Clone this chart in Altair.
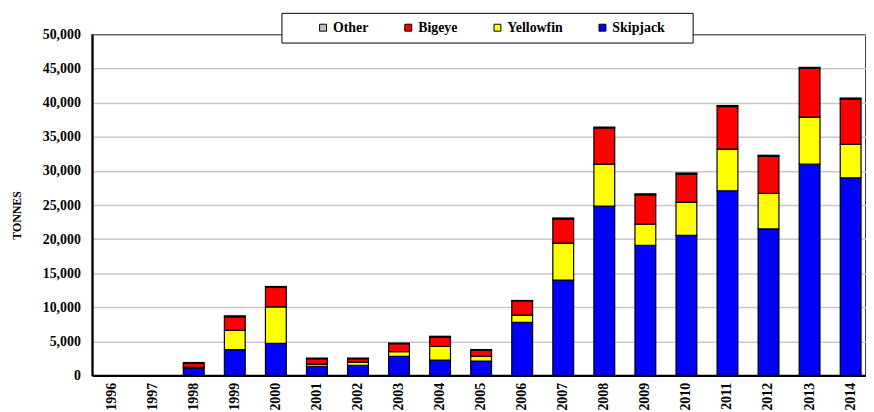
import altair as alt
import pandas as pd

years = [str(y) for y in range(1996, 2015)]
skipjack = [0, 0, 1100, 3800, 4700, 1350, 1500, 2800, 2250, 2100, 7800, 14000, 24850, 19100, 20550, 27100, 21500, 31000, 29000]
yellowfin = [0, 0, 100, 2800, 5350, 300, 450, 700, 2000, 700, 1050, 5400, 6150, 3100, 4850, 6100, 5200, 6900, 4900]
bigeye = [0, 0, 550, 2000, 2850, 800, 500, 1150, 1350, 900, 2100, 3550, 5300, 4300, 4150, 6250, 5450, 7150, 6650]
other = [0, 0, 150, 150, 150, 100, 100, 100, 150, 100, 50, 150, 150, 150, 150, 150, 150, 150, 150]

species = ["Other", "Bigeye", "Yellowfin", "Skipjack"]
colors = ["#c0c0c0", "#ff0000", "#ffff00", "#0000ff"]
stack_rank = {"Skipjack": 0, "Yellowfin": 1, "Bigeye": 2, "Other": 3}
y_ticks = list(range(0, 50001, 5000))

rows = []
for sp, vals in [("Skipjack", skipjack), ("Yellowfin", yellowfin), ("Bigeye", bigeye), ("Other", other)]:
    for yr, v in zip(years, vals):
        rows.append({"year": yr, "species": sp, "tonnes": v, "rank": stack_rank[sp]})
df = pd.DataFrame(rows)

FONT = "Liberation Serif"
PAD = "\u2800\u2800"

bars = alt.Chart(df).transform_filter("datum.tonnes > 0").mark_bar(
    stroke="black", strokeWidth=1.2
).encode(
    x=alt.X("year:N", sort=None,
            scale=alt.Scale(domain=years, paddingInner=0.493, paddingOuter=0.17, align=0.645),
            axis=alt.Axis(title=None, labelAngle=270, labelPadding=7, ticks=False, grid=False,
                          domainColor="black", domainWidth=2, labelFont=FONT,
                          labelFontWeight="bold", labelFontSize=14, labelColor="black")),
    y=alt.Y("tonnes:Q", stack="zero",
            scale=alt.Scale(domain=[0, 50000], nice=False),
            axis=alt.Axis(values=y_ticks, format=",d", title="TONNES", titleFont=FONT,
                          titleFontWeight="bold", titleFontSize=12, titleColor="black",
                          titleX=-69, titleY=182, ticks=False, labelPadding=12,
                          domainColor="black", domainWidth=2, gridColor="#c8c8c8", gridWidth=1.5,
                          labelFont=FONT, labelFontWeight="bold", labelFontSize=14, labelColor="black")),
    color=alt.Color("species:N",
                    scale=alt.Scale(domain=species, range=colors),
                    legend=alt.Legend(orient="none", legendX=191, legendY=-22, direction="horizontal",
                                      title=" ", titleOrient="left", titlePadding=27, titleFontSize=14,
                                      padding=8, strokeColor="black", fillColor="white",
                                      symbolType="square", symbolSize=49, symbolStrokeColor="black",
                                      symbolStrokeWidth=1, labelFont=FONT, labelFontWeight="bold",
                                      labelFontSize=14, labelColor="black", labelOffset=3,
                                      columnPadding=33,
                                      labelExpr="datum.label == 'Skipjack' ? datum.label + '" + PAD + "' : datum.label")),
    order=alt.Order("rank:Q", sort="ascending"),
)

chart = bars.properties(
    width=781, height=344,
    padding={"left": 85, "top": 25, "right": 0, "bottom": 35},
    autosize=alt.AutoSizeParams(type="none"),
).configure_view(stroke="black", strokeWidth=1.5)

chart.save("out.html", embed_options={"renderer": "svg", "actions": False})
